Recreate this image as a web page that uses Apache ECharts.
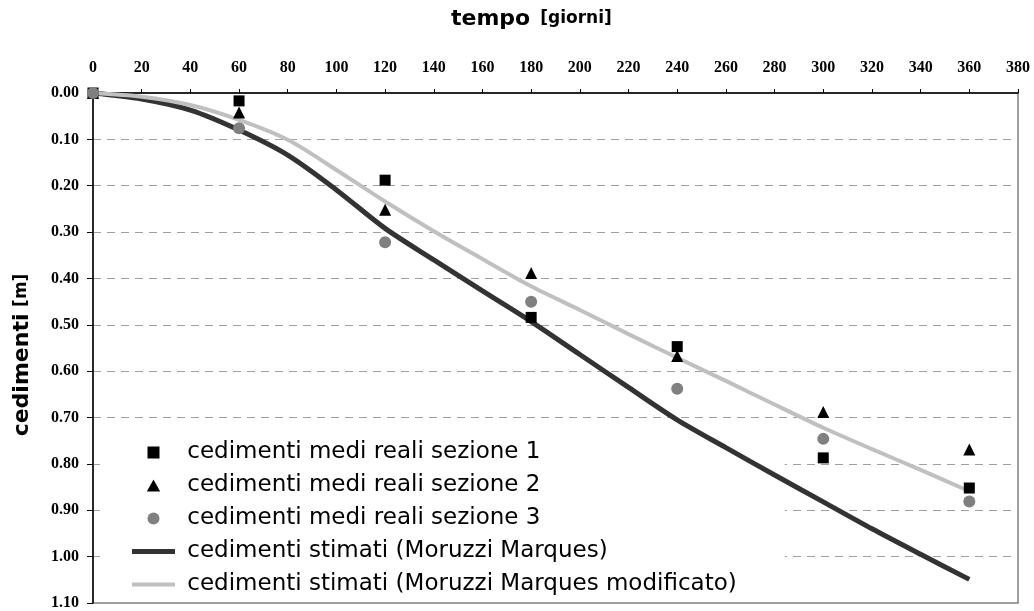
<!DOCTYPE html>
<html>
<head>
<meta charset="utf-8">
<script src="https://cdn.jsdelivr.net/npm/echarts@6/dist/echarts.min.js"></script>
<style>
  html, body { margin: 0; padding: 0; background: #fff; }
  #chart { width: 1034px; height: 611px; }
</style>
</head>
<body>
<div id="chart"></div>
<script>
// misure reali (giorni / cedimenti in m)
const days = [0, 60, 120, 180, 240, 300, 360];
const sezione1 = [0, 0.017, 0.188, 0.484, 0.547, 0.787, 0.852];
const sezione2 = [0, 0.042, 0.252, 0.388, 0.567, 0.688, 0.769];
const sezione3 = [0, 0.076, 0.322, 0.450, 0.638, 0.746, 0.881];

// curve stimate
const curveDays = [0, 20, 40, 60, 80, 100, 120, 140, 160, 180, 200, 220, 240, 260, 280, 300, 320, 340, 360];
const stimati = [0, 0.013, 0.037, 0.080, 0.134, 0.209, 0.292, 0.360, 0.427, 0.493, 0.564, 0.635, 0.705, 0.765, 0.824, 0.882, 0.940, 0.995, 1.049];
const modificato = [0, 0.008, 0.026, 0.058, 0.101, 0.166, 0.234, 0.298, 0.358, 0.417, 0.468, 0.520, 0.571, 0.621, 0.672, 0.722, 0.768, 0.813, 0.859];

const names = [
    'cedimenti medi reali sezione 1',
    'cedimenti medi reali sezione 2',
    'cedimenti medi reali sezione 3',
    'cedimenti stimati (Moruzzi Marques)',
    'cedimenti stimati (Moruzzi Marques modificato)'
];

const pairs = (xs, ys) => xs.map((x, i) => [x, ys[i]]);

const serifBold = {
    fontFamily: 'Liberation Serif',
    fontWeight: 'bold',
    fontSize: 16,
    color: '#000'
};

const titleRich = {
    a: { fontFamily: 'DejaVu Sans', fontWeight: 'bold', fontSize: 22, color: '#000' },
    b: { fontFamily: 'DejaVu Sans', fontWeight: 'bold', fontSize: 17, color: '#000' }
};

// legend icons (path icons keep their aspect ratio)
const iconSquare = 'path://M0,0H10V10H0Z';
const iconTriangle = 'path://M5,0L10,9H0Z';
const iconCircle = 'path://M5,0A5,5 0 1,1 5,10A5,5 0 1,1 5,0Z';
const iconThick = 'path://M0,0H43V5H0Z';
const iconThin = 'path://M0,0H43V4H0Z';

const chart = echarts.init(document.getElementById('chart'));
chart.setOption({
    animation: false,
    backgroundColor: '#fff',
    title: {
        text: '{a|tempo}  {b|[giorni]}',
        left: 446,
        top: 3,
        textStyle: { rich: titleRich }
    },
    graphic: [{
        type: 'text',
        x: 22,
        y: 355,
        rotation: Math.PI / 2,
        style: {
            text: '{a|cedimenti}  {b|[m]}',
            rich: titleRich,
            align: 'center',
            verticalAlign: 'middle'
        }
    }],
    grid: {
        left: 93,
        right: 16,
        top: 93,
        bottom: 8,
        show: true,
        borderColor: '#808080',
        borderWidth: 1.5
    },
    legend: {
        orient: 'vertical',
        left: 100,
        top: 431,
        padding: [10, 48, 5, 32],
        itemGap: 10,
        itemWidth: 43,
        itemHeight: 12,
        backgroundColor: '#fff',
        itemStyle: { borderWidth: 0 },
        textStyle: { fontFamily: 'DejaVu Sans', fontSize: 23, lineHeight: 23, color: '#000' },
        formatter: (n) => ' ' + n,
        data: [
            { name: names[0], icon: iconSquare, itemStyle: { borderWidth: 0 } },
            { name: names[1], icon: iconTriangle, itemStyle: { borderWidth: 0 } },
            { name: names[2], icon: iconCircle, itemStyle: { borderWidth: 0 } },
            { name: names[3], icon: iconThick, itemStyle: { borderWidth: 0 } },
            { name: names[4], icon: iconThin, itemStyle: { borderWidth: 0 } }
        ]
    },
    xAxis: {
        type: 'value',
        position: 'top',
        min: 0,
        max: 380,
        interval: 20,
        axisLine: { lineStyle: { color: '#000', width: 1.5 } },
        axisTick: { length: 4, lineStyle: { color: '#000' } },
        axisLabel: Object.assign({ margin: 17 }, serifBold),
        splitLine: { show: false }
    },
    yAxis: {
        type: 'value',
        inverse: true,
        min: 0,
        max: 1.1,
        interval: 0.1,
        axisLine: { lineStyle: { color: '#000', width: 1.5 } },
        axisTick: { length: 6, lineStyle: { color: '#000' } },
        axisLabel: Object.assign({
            margin: 14,
            formatter: (v) => v.toFixed(2)
        }, serifBold),
        splitLine: { lineStyle: { color: '#a0a0a0', type: [8, 6], width: 1 } }
    },
    series: [
        {
            name: names[3],
            type: 'line',
            data: pairs(curveDays, stimati),
            symbol: 'none',
            smooth: 0.3,
            lineStyle: { color: '#333', width: 5 },
            itemStyle: { color: '#333' },
            z: 6
        },
        {
            name: names[4],
            type: 'line',
            data: pairs(curveDays, modificato),
            symbol: 'none',
            smooth: 0.3,
            lineStyle: { color: '#c0c0c0', width: 4 },
            itemStyle: { color: '#c0c0c0' },
            z: 6
        },
        {
            name: names[0],
            type: 'scatter',
            data: pairs(days, sezione1),
            symbol: 'rect',
            symbolSize: 11,
            itemStyle: { color: '#000', opacity: 1 },
            z: 7
        },
        {
            name: names[1],
            type: 'scatter',
            data: pairs(days, sezione2),
            symbol: 'triangle',
            symbolSize: 12,
            itemStyle: { color: '#000', opacity: 1 },
            z: 7
        },
        {
            name: names[2],
            type: 'scatter',
            data: pairs(days, sezione3),
            symbol: 'circle',
            symbolSize: 12,
            itemStyle: { color: '#808080', opacity: 1 },
            z: 7
        }
    ]
});
</script>
</body>
</html>
